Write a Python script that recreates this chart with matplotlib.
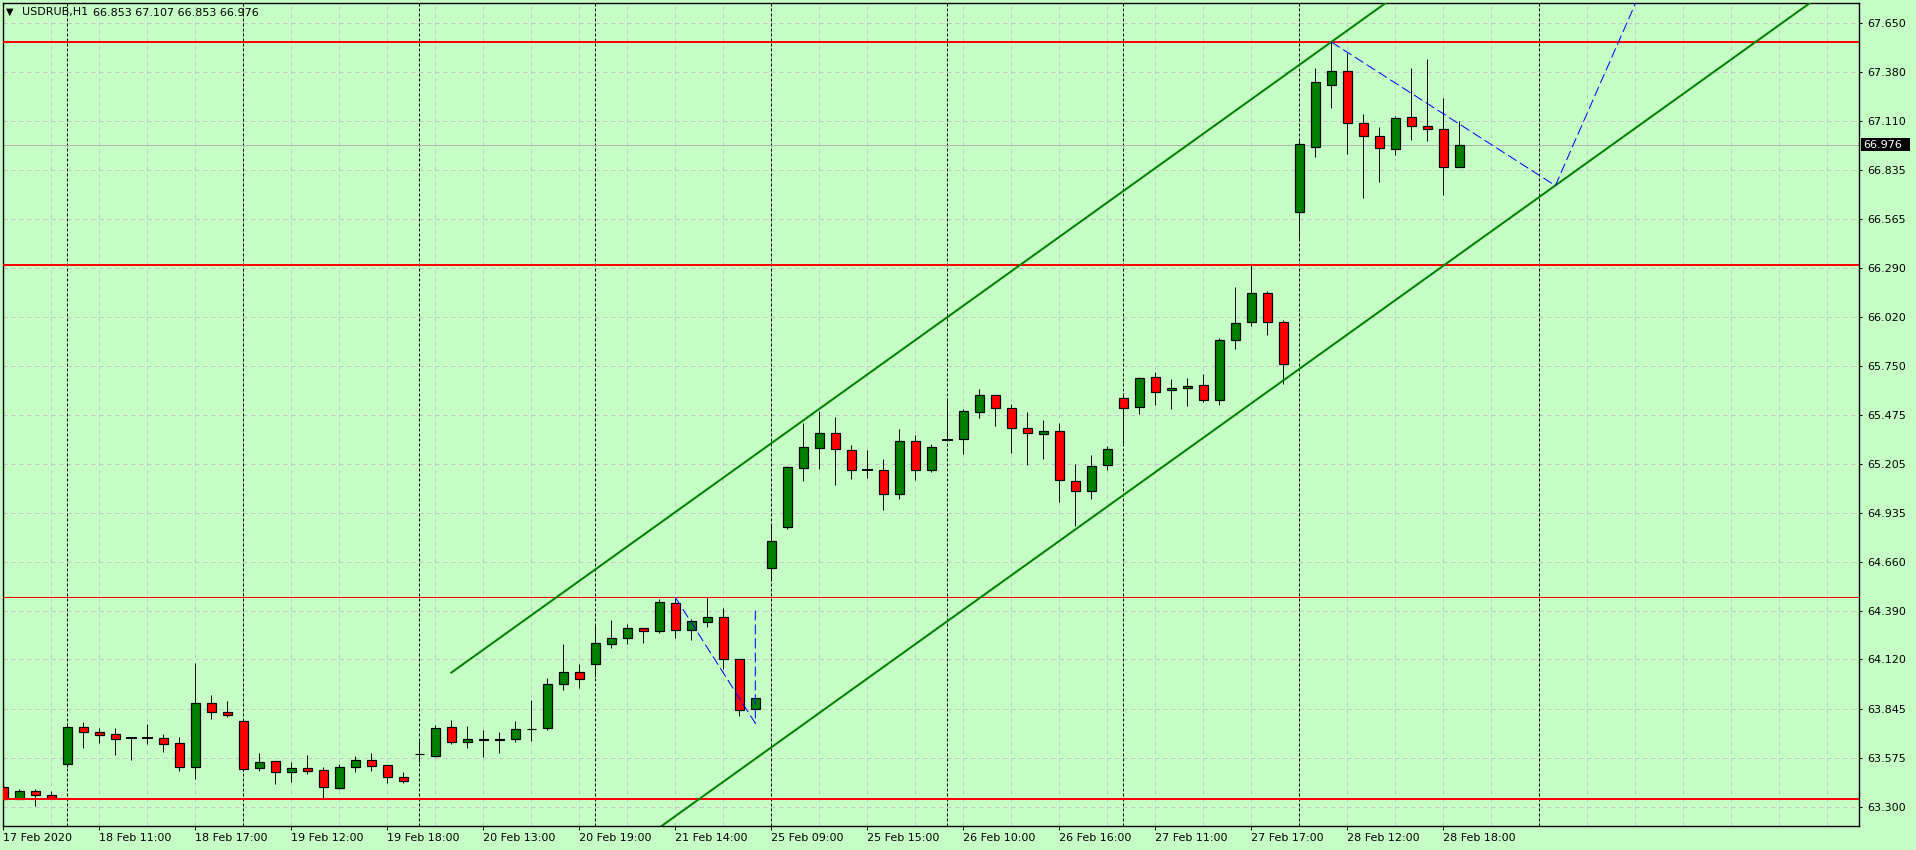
import matplotlib
matplotlib.use('Agg')
import matplotlib.pyplot as plt
from matplotlib.patches import Rectangle
import numpy as np

plt.rcParams['font.family'] = ['DejaVu Sans']

# USDRUB H1 candles, bar 0 = 17 Feb 2020
opens = [63.413, 63.348, 63.389, 63.367, 63.542, 63.744, 63.716, 63.705, 63.683, 63.683,
         63.683, 63.655, 63.522, 63.877, 63.827, 63.777, 63.516, 63.555, 63.498, 63.516,
         63.505, 63.409, 63.522, 63.561, 63.533, 63.466, 63.594, 63.586, 63.744, 63.661,
         63.675, 63.675, 63.677, 63.732, 63.738, 63.982, 64.049, 64.093, 64.204, 64.238,
         64.293, 64.277, 64.432, 64.282, 64.326, 64.354, 64.121, 63.844, 64.629, 64.857,
         65.184, 65.295, 65.375, 65.281, 65.172, 65.170, 65.037, 65.331, 65.170, 65.340,
         65.345, 65.495, 65.586, 65.514, 65.403, 65.369, 65.386, 65.109, 65.053, 65.198,
         65.569, 65.519, 65.686, 65.614, 65.625, 65.641, 65.558, 65.891, 65.991, 66.152,
         65.991, 66.601, 66.962, 67.306, 67.384, 67.095, 67.023, 66.951, 67.128, 67.078,
         67.062, 66.853]
highs = [63.474, 63.400, 63.400, 63.389, 63.769, 63.772, 63.738, 63.738, 63.686, 63.762,
         63.705, 63.688, 64.102, 63.923, 63.890, 63.777, 63.600, 63.555, 63.550, 63.589,
         63.522, 63.539, 63.583, 63.600, 63.533, 63.494, 63.670, 63.755, 63.784, 63.751,
         63.727, 63.720, 63.779, 63.895, 64.016, 64.206, 64.095, 64.306, 64.339, 64.317,
         64.293, 64.456, 64.461, 64.343, 64.465, 64.404, 64.121, 63.905, 64.872, 65.194,
         65.434, 65.500, 65.464, 65.310, 65.281, 65.231, 65.397, 65.364, 65.314, 65.569,
         65.508, 65.619, 65.586, 65.538, 65.492, 65.447, 65.431, 65.203, 65.253, 65.303,
         65.600, 65.685, 65.715, 65.676, 65.682, 65.702, 65.902, 66.187, 66.309, 66.163,
         66.002, 66.999, 67.400, 67.546, 67.487, 67.145, 67.075, 67.134, 67.400, 67.450,
         67.234, 67.107]
lows = [63.322, 63.348, 63.309, 63.353, 63.525, 63.631, 63.657, 63.590, 63.564, 63.653,
        63.609, 63.503, 63.459, 63.792, 63.803, 63.501, 63.500, 63.431, 63.442, 63.486,
        63.348, 63.403, 63.498, 63.503, 63.436, 63.436, 63.550, 63.581, 63.653, 63.631,
        63.581, 63.600, 63.664, 63.670, 63.731, 63.952, 63.964, 64.025, 64.186, 64.204,
        64.213, 64.269, 64.241, 64.230, 64.302, 64.066, 63.805, 63.844, 64.562, 64.846,
        65.112, 65.179, 65.090, 65.120, 65.129, 64.951, 65.009, 65.118, 65.159, 65.330,
        65.260, 65.462, 65.417, 65.267, 65.201, 65.234, 64.996, 64.862, 65.012, 65.173,
        65.323, 65.482, 65.532, 65.512, 65.528, 65.550, 65.534, 65.845, 65.972, 65.922,
        65.647, 66.457, 66.910, 67.182, 66.925, 66.682, 66.771, 66.921, 67.004, 66.999,
        66.699, 66.853]
closes = [63.348, 63.389, 63.367, 63.353, 63.744, 63.716, 63.703, 63.681, 63.683, 63.683,
          63.653, 63.522, 63.877, 63.827, 63.810, 63.511, 63.550, 63.498, 63.516, 63.503,
          63.414, 63.522, 63.561, 63.531, 63.466, 63.444, 63.598, 63.738, 63.661, 63.677,
          63.677, 63.680, 63.733, 63.736, 63.982, 64.049, 64.010, 64.210, 64.238, 64.293,
          64.277, 64.437, 64.282, 64.332, 64.354, 64.121, 63.838, 63.905, 64.776, 65.186,
          65.297, 65.375, 65.286, 65.170, 65.171, 65.037, 65.331, 65.170, 65.297, 65.342,
          65.497, 65.586, 65.514, 65.403, 65.375, 65.386, 65.114, 65.053, 65.192, 65.286,
          65.514, 65.680, 65.606, 65.627, 65.638, 65.558, 65.891, 65.985, 66.152, 65.991,
          65.758, 66.979, 67.323, 67.384, 67.095, 67.023, 66.956, 67.123, 67.078, 67.062,
          66.851, 66.976]

x_ticks = [0, 6, 12, 18, 24, 30, 36, 42, 48, 54, 60, 66, 72, 78, 84, 90]
x_labels = ['17 Feb 2020', '18 Feb 11:00', '18 Feb 17:00', '19 Feb 12:00', '19 Feb 18:00',
            '20 Feb 13:00', '20 Feb 19:00', '21 Feb 14:00', '25 Feb 09:00', '25 Feb 15:00',
            '26 Feb 10:00', '26 Feb 16:00', '27 Feb 11:00', '27 Feb 17:00', '28 Feb 12:00',
            '28 Feb 18:00']
y_ticks = [63.300, 63.575, 63.845, 64.120, 64.390, 64.660, 64.935, 65.205, 65.475,
           65.750, 66.020, 66.290, 66.565, 66.835, 67.110, 67.380, 67.650]
day_separators = [4, 15, 26, 37, 48, 59, 70, 81, 96]

# drawn objects
levels_thick = [67.546, 66.309, 63.347]
levels_thin = [64.465]
channel_start = (28, 64.047)
channel_slope = 0.06362
channel_width = 1.687
zigzag1_x = [42, 47, 47]
zigzag1_y = [64.465, 63.766, 64.393]
zigzag2_x = [83, 97, 104]
zigzag2_y = [67.546, 66.749, 68.162]
bid = 66.976

W, H = 1916, 850
bg = '#C6FFC6'
PX = 0.72  # one pixel in points at 100 dpi

fig = plt.figure(figsize=(W / 100, H / 100), dpi=100, facecolor=bg)
left, right, top, bottom = 2.5, 1859, 2.5, 826
ax = fig.add_axes([left / W, 1 - bottom / H, (right - left) / W, (bottom - top) / H])
ax.set_facecolor(bg)
ax.set_xlim(-0.05, 115.98)
ax.set_ylim(63.196, 67.765)

# grid
for gx in range(0, 116, 3):
    ax.axvline(gx, color='#C4C4C4', lw=PX, ls=(0, (4, 4)), zorder=0)
for gy in y_ticks:
    ax.axhline(gy, color='#C4C4C4', lw=PX, ls=(0, (4, 4)), zorder=0)
for sx in day_separators:
    ax.axvline(sx, color='black', lw=PX, ls=(0, (3, 2)), zorder=1)

ax.axhline(bid, color='#B4B4B4', lw=PX, zorder=1.5)

# candles
body_w = 0.58
for i in range(len(opens)):
    o, h, l, c = opens[i], highs[i], lows[i], closes[i]
    ax.plot([i, i], [l, h], color='black', lw=PX, zorder=2, solid_capstyle='butt')
    col = '#008000' if c >= o else '#FF0000'
    lo, hi = min(o, c), max(o, c)
    if hi - lo < 0.002:
        ax.plot([i - body_w / 2, i + body_w / 2], [o, o], color='black', lw=1.4, zorder=3)
    else:
        ax.add_patch(Rectangle((i - body_w / 2, lo), body_w, hi - lo, facecolor=col,
                               edgecolor='black', lw=PX * 1.2, zorder=3))

# horizontal levels
for lv in levels_thick:
    ax.axhline(lv, color='#FF0000', lw=2 * PX, zorder=4)
for lv in levels_thin:
    ax.axhline(lv, color='#FF0000', lw=PX, zorder=4)

# channel
cx = np.array([channel_start[0], 130])
upper = channel_start[1] + channel_slope * (cx - channel_start[0])
ax.plot(cx, upper, color='#008000', lw=2 * PX, zorder=4)
ax.plot(cx, upper - channel_width, color='#008000', lw=2 * PX, zorder=4)

# forecast lines
ax.plot(zigzag1_x, zigzag1_y, color='#0000FF', lw=PX, ls=(0, (10, 4)), zorder=5)
ax.plot(zigzag2_x, zigzag2_y, color='#0000FF', lw=PX, ls=(0, (10, 4)), zorder=5)

# axes styling
for s in ax.spines.values():
    s.set_color('black')
    s.set_linewidth(1.4 * PX)
ax.yaxis.tick_right()
ax.set_yticks(y_ticks)
ax.set_yticklabels([f'{v:.3f}' for v in y_ticks])
ax.set_xticks(x_ticks)
ax.set_xticklabels(x_labels)
ax.tick_params(axis='y', length=3 * PX, width=PX, pad=3.5, labelsize=8, colors='black')
ax.tick_params(axis='x', length=4 * PX, width=PX, pad=2, labelsize=8, colors='black')
for lab in ax.get_xticklabels():
    lab.set_horizontalalignment('left')

# bid price label
yb = ax.transData.transform((0, bid))[1]
fig.add_artist(Rectangle((1861 / W, (yb - 6.5) / H), 49 / W, 13 / H,
                         transform=fig.transFigure, facecolor='black', edgecolor='none'))
fig.text(1863 / W, yb / H, f'{bid:.3f}', color='white', fontsize=8, va='center', ha='left')

# header
fig.text(6 / W, 1 - 12 / H, '▼', fontsize=7, va='center', ha='left')
fig.text(21.7 / W, 1 - 12.5 / H, 'USDRUB,H1', fontsize=8, va='center', ha='left')
fig.text(93 / W, 1 - 12.5 / H, '66.853 67.107 66.853 66.976', fontsize=8, va='center', ha='left')

fig.savefig('out.png', dpi=100, facecolor=bg)
